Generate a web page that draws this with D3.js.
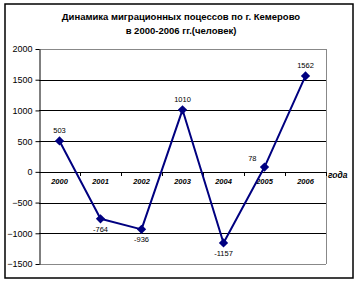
<!DOCTYPE html>
<html>
<head>
<meta charset="utf-8">
<script src="https://cdn.jsdelivr.net/npm/d3@7"></script>
<style>
  body { margin: 0; background: #fff; }
  svg { display: block; font-family: "Liberation Sans", Arial, sans-serif; }
</style>
</head>
<body>
<div id="chart"></div>
<script>
// chart data
const years = ["2000", "2001", "2002", "2003", "2004", "2005", "2006"];
const migration = [503, -764, -936, 1010, -1157, 78, 1562];
const yTicks = [-1500, -1000, -500, 0, 500, 1000, 1500, 2000];
const titleLines = ["Динамика миграционных поцессов по г. Кемерово", "в 2000-2006 гг.(человек)"];
const axisName = "года";

const width = 358, height = 283;
const margin = { top: 49, right: 32, bottom: 19, left: 39 };

const svg = d3.select("#chart").append("svg")
  .attr("width", width)
  .attr("height", height);

// outer frame
svg.append("rect")
  .attr("x", 5).attr("y", 4)
  .attr("width", 348).attr("height", 274)
  .attr("fill", "none")
  .attr("stroke", "#000")
  .attr("stroke-width", 1.5);

// title
svg.append("g").selectAll("text")
  .data(titleLines)
  .join("text")
  .attr("x", 181)
  .attr("y", (d, i) => 20 + i * 14)
  .attr("text-anchor", "middle")
  .attr("font-size", 9.5)
  .attr("font-weight", "bold")
  .text(d => d);

const x = d3.scaleBand()
  .domain(years)
  .range([margin.left, width - margin.right]);

const y = d3.scaleLinear()
  .domain([-1500, 2000])
  .range([height - margin.bottom, margin.top]);

// gridlines
svg.append("g").selectAll("line")
  .data(yTicks)
  .join("line")
  .attr("x1", margin.left)
  .attr("x2", width - margin.right)
  .attr("y1", d => Math.round(y(d)) + 0.5)
  .attr("y2", d => Math.round(y(d)) + 0.5)
  .attr("stroke", d => (d === 2000 || d === -1500) ? "#888" : "#000")
  .attr("stroke-width", 1);

// right plot border
svg.append("line")
  .attr("x1", width - margin.right + 0.5)
  .attr("x2", width - margin.right + 0.5)
  .attr("y1", y(2000))
  .attr("y2", y(-1500))
  .attr("stroke", "#888");

// y axis
const yAxis = svg.append("g")
  .attr("transform", `translate(${margin.left + 0.5},0)`)
  .call(d3.axisLeft(y).tickValues(yTicks).tickFormat(d3.format("d")).tickSize(4).tickSizeOuter(0));
yAxis.select(".domain").attr("stroke", "#000");
yAxis.selectAll("text")
  .attr("font-size", 9)
  .attr("font-family", "Liberation Sans, Arial, sans-serif")
  .attr("fill", "#000");

// category axis on zero line
const xAxis = svg.append("g")
  .attr("transform", `translate(0,${Math.round(y(0)) + 0.5})`)
  .call(d3.axisBottom(x).tickSize(0).tickSizeOuter(0));
xAxis.select(".domain").remove();
xAxis.selectAll("text")
  .attr("dy", "1.1em")
  .attr("font-size", 7.5)
  .attr("font-weight", "bold")
  .attr("font-style", "italic")
  .attr("font-family", "Liberation Sans, Arial, sans-serif")
  .attr("fill", "#000");

// ticks between categories
svg.append("g").selectAll("line")
  .data(years)
  .join("line")
  .attr("x1", d => Math.round(x(d) + x.bandwidth()) + 0.5)
  .attr("x2", d => Math.round(x(d) + x.bandwidth()) + 0.5)
  .attr("y1", Math.round(y(0)))
  .attr("y2", Math.round(y(0)) + 4)
  .attr("stroke", "#000");

svg.append("text")
  .attr("x", width - margin.right + 2)
  .attr("y", y(0) + 6)
  .attr("font-size", 8.5)
  .attr("font-style", "italic")
  .attr("font-weight", "bold")
  .attr("fill", "#000")
  .text(axisName);

const px = (d, i) => x(years[i]) + x.bandwidth() / 2;

// line
const line = d3.line()
  .x(px)
  .y(d => y(d));

svg.append("path")
  .datum(migration)
  .attr("fill", "none")
  .attr("stroke", "#000080")
  .attr("stroke-width", 2)
  .attr("stroke-linejoin", "round")
  .attr("d", line);

// diamond markers
svg.append("g").selectAll("path")
  .data(migration)
  .join("path")
  .attr("transform", (d, i) => `translate(${px(d, i)},${y(d)})`)
  .attr("d", d3.symbol(d3.symbolDiamond2, 55)())
  .attr("fill", "#000080");

// data labels
const labelPos = [[0, -8], [0, 13], [0, 13], [0, -8], [0, 13], [-8, -6], [0, -8]];
svg.append("g").selectAll("text")
  .data(migration)
  .join("text")
  .attr("x", (d, i) => px(d, i) + labelPos[i][0])
  .attr("y", (d, i) => y(d) + labelPos[i][1])
  .attr("text-anchor", (d, i) => i === 5 ? "end" : "middle")
  .attr("font-size", 7.5)
  .attr("fill", "#000")
  .text(d => d);
</script>
</body>
</html>
